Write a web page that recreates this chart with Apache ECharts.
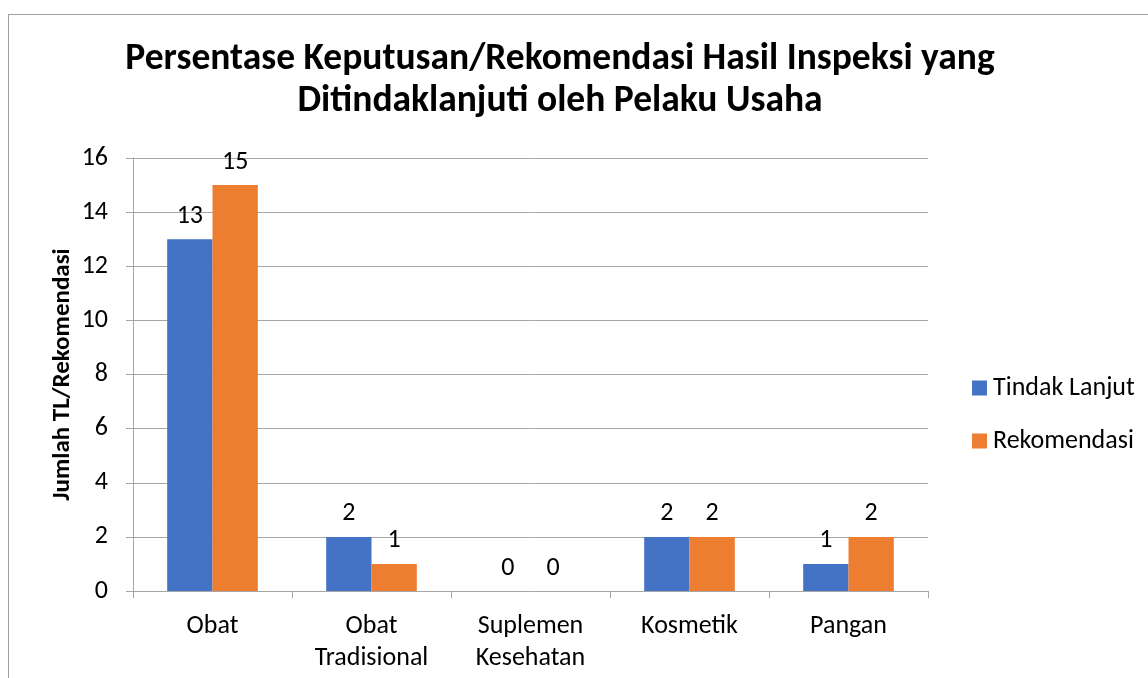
<html>
<head>
  <meta charset="utf-8">
  <script src="https://cdn.jsdelivr.net/npm/echarts@6/dist/echarts.min.js"></script>
  <style>
    html, body { margin: 0; width: 100%; height: 100%; background: #fff; overflow: hidden; }
    .frame { position: absolute; left: 8px; top: 14px; width: 1200px; height: 700px; border: 1px solid #a0a0a0; box-sizing: border-box; }
    #chart { position: absolute; left: 0; top: 0; width: 1148px; height: 678px; }
  </style>
</head>
<body>
  <div class="frame"></div>
  <div id="chart"></div>
  <script>
    var categories = ['Obat', 'Obat\nTradisional', 'Suplemen\nKesehatan', 'Kosmetik', 'Pangan'];
    var tindakLanjut = [13, 2, 0, 2, 1];
    var rekomendasi = [15, 1, 0, 2, 2];
    var yTicks = { min: 0, max: 16, interval: 2 };

    var font = 'Carlito, "Open Sans", "Noto Sans", sans-serif';
    var myChart = echarts.init(document.getElementById('chart'));

    var option = {
      animation: false,
      title: {
        text: 'Persentase Keputusan/Rekomendasi Hasil Inspeksi yang\nDitindaklanjuti oleh Pelaku Usaha',
        left: 555,
        top: 34,
        textAlign: 'center',
        textStyle: { fontFamily: font, fontSize: 37.5, fontWeight: 'bold', color: '#000', lineHeight: 42 }
      },
      legend: {
        orient: 'vertical',
        left: 967,
        top: 370,
        itemWidth: 15,
        itemHeight: 15,
        itemGap: 27,
        icon: 'rect',
        textStyle: { fontFamily: font, fontSize: 26, color: '#000', padding: [0, 0, 0, 1] },
        data: ['Tindak Lanjut', 'Rekomendasi']
      },
      grid: { left: 133, right: 220, top: 158, bottom: 87 },
      xAxis: {
        type: 'category',
        data: categories,
        axisLine: { lineStyle: { color: '#a6a6a6', width: 1 } },
        axisTick: { show: true, length: 7, lineStyle: { color: '#a6a6a6' } },
        axisLabel: { fontFamily: font, fontSize: 26, color: '#000', margin: 19, lineHeight: 32 }
      },
      yAxis: {
        type: 'value',
        min: yTicks.min,
        max: yTicks.max,
        interval: yTicks.interval,
        name: 'Jumlah TL/Rekomendasi',
        nameLocation: 'middle',
        nameGap: 58,
        nameMoveOverlap: false,
        nameTextStyle: { fontFamily: font, fontSize: 25, fontWeight: 'bold', color: '#000' },
        axisLine: { show: true, lineStyle: { color: '#a6a6a6' } },
        axisTick: { show: true, length: 7, lineStyle: { color: '#a6a6a6' } },
        splitLine: { lineStyle: { color: '#a6a6a6', width: 1 } },
        axisLabel: { fontFamily: font, fontSize: 26, color: '#000', margin: 25 }
      },
      series: [{
        name: 'Tindak Lanjut',
        type: 'bar',
        data: tindakLanjut,
        barGap: '0%',
        barCategoryGap: '43%',
        itemStyle: { color: '#4472C4' },
        label: { show: true, position: 'top', distance: 10, fontFamily: font, fontSize: 26, color: '#000' }
      }, {
        name: 'Rekomendasi',
        type: 'bar',
        data: rekomendasi,
        itemStyle: { color: '#ED7D31' },
        label: { show: true, position: 'top', distance: 10, fontFamily: font, fontSize: 26, color: '#000' }
      }]
    };
    myChart.setOption(option);
  </script>
</body>
</html>
